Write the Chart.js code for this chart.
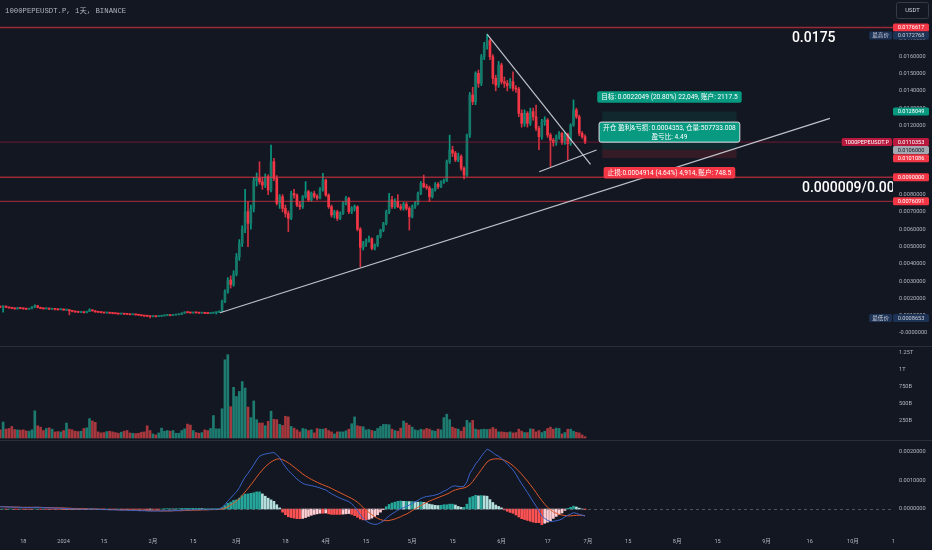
<!DOCTYPE html>
<html><head><meta charset="utf-8">
<script src="https://cdn.jsdelivr.net/npm/chart.js@4.4.1/dist/chart.umd.min.js"></script>
<style>
html,body{margin:0;padding:0;background:#131722;overflow:hidden;}
canvas{display:block;}
</style></head><body>
<canvas id="c" width="932" height="550"></canvas>
<script>
// ---- DATA ----
// day index: 0 = 2024-01-01, first candle 2023-12-10
const firstDay = -22;
const PRICE_UNIT = 0.00001;   // OHLC arrays are in units of 0.00001 USDT
const MACD_UNIT = 0.00001;    // MACD arrays in units of 0.00001
// volume in billions (B)
const opensRaw = [
152,150,155,148,145,143,140,145,142,140,
138,141,150,158,148,142,140,143,138,140,
137,135,138,133,135,128,125,122,120,121,
118,125,133,128,122,120,118,116,118,115,
113,112,110,112,109,108,106,108,105,103,
100,98,97,95,96,95,97,99,102,103,
101,104,106,108,115,120,118,116,118,117,
115,116,114,113,115,118,120,125,180,240,
306,280,340,440,520,600,701,634,720,880,
894,874,855,903,826,990,894,750,788,720,
691,663,807,797,740,730,788,817,769,807,
790,780,830,884,797,730,682,700,663,691,
750,778,701,720,730,600,495,520,537,545,
489,510,560,595,634,701,770,730,760,730,
720,745,720,673,730,750,807,865,846,840,
788,830,860,846,875,880,991,1058,1040,1000,
1020,952,913,1144,1376,1337,1501,1443,1597,1665,
1690,1597,1472,1433,1549,1453,1443,1430,1453,1414,
1410,1270,1212,1270,1212,1280,1250,1183,1135,1221,
1231,1144,1115,1100,1135,1154,1100,1150,1095,1202,
1289,1250,1154,1135];
const highsRaw = [
156,158,157,150,147,145,148,147,144,142,
143,153,163,160,150,144,146,145,142,141,
139,140,140,137,136,130,127,124,123,122,
127,140,135,130,124,122,120,120,119,117,
115,113,114,113,111,109,110,109,107,104,
102,100,98,98,97,99,101,104,105,104,
106,108,110,117,123,122,120,120,119,118,
118,117,115,117,120,122,128,190,250,320,
330,360,460,540,620,830,760,740,900,925,
990,900,920,915,1087,1010,910,800,800,740,
705,820,830,805,760,795,875,825,815,820,
800,840,923,890,805,740,710,710,700,760,
790,785,730,740,735,610,530,545,560,550,
515,565,600,640,710,807,790,775,800,745,
755,755,730,740,760,815,875,913,860,850,
835,870,870,880,890,1000,1144,1080,1050,1040,
1030,960,1150,1390,1420,1510,1520,1610,1680,1728,
1700,1610,1490,1570,1560,1480,1460,1470,1510,1430,
1420,1290,1290,1280,1300,1300,1318,1195,1235,1250,
1240,1155,1125,1145,1165,1160,1160,1155,1210,1347,
1300,1260,1165,1145];
const lowsRaw = [
146,121,146,143,140,137,138,140,137,135,
136,139,147,145,140,137,138,135,136,134,
132,133,130,130,105,122,119,117,118,115,
116,123,126,120,118,116,114,114,113,111,
110,108,109,107,106,104,105,103,101,98,
96,94,86.5,93,92,94,96,98,100,99,
100,103,105,107,113,116,114,115,115,113,
114,112,111,112,114,110,118,123,175,230,
260,270,330,420,500,580,499,600,700,850,
860,830,840,800,815,880,740,720,700,670,
586,655,780,730,715,720,780,760,760,780,
770,775,820,790,720,670,665,650,655,685,
740,690,690,705,590,383,480,500,525,480,
480,500,550,585,625,690,720,720,725,710,
710,710,595,665,720,740,800,840,830,760,
780,820,835,840,865,875,980,1020,990,990,
940,890,905,1130,1320,1320,1420,1430,1580,1640,
1580,1440,1400,1420,1440,1420,1400,1415,1400,1390,
1250,1190,1195,1190,1200,1230,1170,1060,1120,1200,
1130,962,1080,1085,1120,1090,1090,1000,1085,1195,
1240,1140,1125,1095];
const closesRaw = [
150,155,148,145,143,140,145,142,140,138,
141,150,158,148,142,140,143,138,140,137,
135,138,133,135,128,125,122,120,121,118,
125,133,128,122,120,118,116,118,115,113,
112,110,112,109,108,106,108,105,103,100,
98,97,95,96,95,97,99,102,103,101,
104,106,108,115,120,118,116,118,117,115,
116,114,113,115,118,120,125,180,240,306,
280,340,440,520,600,701,634,720,880,894,
874,855,903,826,990,894,750,788,720,691,
663,807,797,740,730,788,817,769,807,790,
780,830,884,797,730,682,700,663,691,750,
778,701,720,730,600,495,520,537,545,489,
510,560,595,634,701,770,730,760,730,720,
745,720,673,730,750,807,865,846,840,788,
830,860,846,875,880,991,1058,1040,1000,1020,
952,913,1144,1376,1337,1501,1443,1597,1665,1690,
1597,1472,1433,1549,1453,1443,1430,1453,1414,1410,
1270,1212,1270,1212,1280,1250,1183,1135,1221,1231,
1144,1115,1100,1135,1154,1100,1150,1095,1202,1289,
1250,1154,1135,1103.53];
const volumesB = [
120,235,130,140,170,125,120,115,120,105,
100,120,400,180,160,110,140,150,130,90,
95,90,110,220,130,120,100,95,100,140,
150,285,250,230,90,75,80,95,100,90,
80,70,85,100,110,75,70,65,70,85,
90,180,110,60,45,75,145,100,110,100,
110,70,70,110,135,205,190,110,80,70,
80,120,110,140,330,135,135,430,1150,1225,
460,745,610,685,830,735,455,300,545,270,
220,220,180,245,395,275,270,200,185,320,
310,170,145,120,90,140,130,110,120,75,
140,130,130,140,110,90,60,90,90,90,
105,130,210,310,180,170,165,120,125,110,
100,140,170,200,200,195,130,110,100,145,
250,220,190,160,120,110,130,120,140,130,
110,100,130,120,300,350,270,160,140,130,
100,160,260,225,260,130,120,125,130,125,
130,155,130,90,90,85,80,90,75,80,
130,100,80,80,135,130,90,110,80,100,
140,160,130,145,140,60,80,130,130,100,
85,75,45,20];
const macdRaw = [
8,8,7,7,7,6,6,6,5,5,
5,5,6,6,5,5,4,4,4,3,
3,3,2,2,1,1,0,0,-1,-1,
-1,0,0,-1,-1,-2,-2,-2,-3,-3,
-3,-3,-4,-4,-4,-5,-5,-5,-6,-6,
-6,-7,-7,-7,-7,-7,-7,-6,-6,-6,
-6,-5,-5,-4,-3,-3,-3,-2,-2,-2,
-2,-2,-2,-2,-1,-1,0,5,15,28,
38,50,60,75,95,112,125,140,155,172,
185,190,193,195,197,198,190,180,162,148,
135,125,115,105,97,90,86,84,82,80,
77,74,70,67,60,53,48,43,38,34,
30,26,18,8,-5,-20,-33,-42,-48,-52,
-54,-53,-48,-42,-33,-24,-17,-11,-4,1,
5,9,14,20,25,30,37,41,44,45,
47,49,52,57,63,67,74,80,81,79,
78,80,95,125,140,158,170,185,198,210,
205,198,190,185,178,168,158,148,137,122,
105,88,73,58,42,26,10,-5,-25,-33,
-40,-44,-43,-41,-39,-35,-28,-22,-18,-13,
-15,-19,-22,-25];
const signalRaw = [
8,8,8,7,7,7,7,6,6,6,
6,6,6,6,6,5,5,5,5,4,
4,4,4,3,3,2,2,1,1,1,
0,0,0,0,-1,-1,-1,-2,-2,-2,
-2,-3,-3,-3,-3,-4,-4,-4,-5,-5,
-5,-5,-6,-6,-6,-6,-7,-7,-7,-7,
-6,-6,-6,-6,-5,-5,-5,-4,-4,-4,
-3,-3,-3,-2,-2,-2,-1,0,3,8,
14,20,28,37,48,60,72,85,98,112,
125,137,148,157,165,171,175,176,173,168,
162,155,147,139,131,123,116,110,104,99,
94,89,85,81,77,72,67,62,57,52,
47,42,37,31,24,15,5,-4,-12,-20,
-27,-33,-37,-40,-41,-40,-38,-35,-31,-27,
-22,-18,-12,-6,0,6,12,18,23,28,
32,36,40,44,48,52,57,63,67,70,
72,74,78,85,96,110,124,138,152,165,
172,175,176,176,174,171,166,160,152,143,
133,122,110,98,85,72,58,43,30,17,
6,-3,-10,-15,-19,-21,-23,-24,-24,-23,
-22,-22,-22,-23];

// time-axis ticks
const tickDays   = [-14, 0, 14, 31, 45, 60, 77, 91, 105, 121, 135, 152, 168, 182, 196, 213, 227, 244, 259, 274, 288];
const tickLabels = ['18','2024','15','2月','15','3月','18','4月','15','5月','15','6月','17','7月','15','8月','15','9月','16','10月','1'];
const priceTicks = [0,0.001,0.002,0.003,0.004,0.005,0.006,0.007,0.008,0.009,0.010,0.011,0.012,0.013,0.014,0.015,0.016,0.017];
const volumeTicks = [250, 500, 750, 1000, 1250];
const volumeTickLabels = ['250B','500B','750B','1T','1.25T'];
const macdTicks = [0, 0.001, 0.002];

// drawings
const hLineValues = [0.0176617, 0.0110353, 0.0090000, 0.0076091];
const trendLines = [
  [54.3, 0.001173, 266, 0.01241],
  [147.06, 0.017266, 182.9, 0.00975],
  [165.1, 0.00932, 185, 0.01058]
];
const posStartDay = 187, posEndDay = 233.6;
const posTarget = 0.0128049, posEntry = 0.0106000, posStop = 0.0101086;
const posTargetText = '目标: 0.0022049 (20.80%) 22,049, 账户: 2117.5';
const posEntryText = ['开仓 盈利&亏损: 0.0004353, 仓量:507733.008', '盈亏比: 4.49'];
const posStopText = '止损:0.0004914 (4.64%) 4,914, 账户: 748.5';
const noteTexts = ['0.0175', '0.000009/0.00'];
const noteDays = [252.8, 256.3];
const notePrices = [0.01705, 0.00838];
const axisMarkValues = [0.0176617, 0.0172768, 0.0128049, 0.0110353, 0.0106000, 0.0101086, 0.0090000, 0.0076091, 0.0008653];
const axisMarkBg = ['#f23645', '#1d3356', '#089981', '#b8193f', '#a5a8b0', '#f23645', '#f23645', '#f23645', '#1d3356'];
const axisMarkFg = ['#ffffff', '#c9ccd4', '#ffffff', '#ffffff', '#131722', '#ffffff', '#ffffff', '#ffffff', '#c9ccd4'];
const axisMarkTags = ['', '最高价', '', '1000PEPEUSDT.P', '', '', '', '', '最低价'];
const titleText = '1000PEPEUSDT.P, 1天, BINANCE';

// ---- BUILD ----
const days = closesRaw.map((_, i) => firstDay + i);
const isUp = i => closesRaw[i] >= opensRaw[i];
const GREEN = '#089981', RED = '#f23645';
const hist = macdRaw.map((m, i) => m - signalRaw[i]);
const histColor = i => {
  const h = hist[i], p = i > 0 ? hist[i - 1] : 0;
  if (h >= 0) return h >= p ? '#26a69a' : '#b2dfdb';
  return h <= p ? '#ff5252' : '#ffcdd2';
};
const AXIS_FONT = 'Roboto, "Noto Sans CJK SC", sans-serif';

const overlay = {
  id: 'overlay',
  beforeDatasetsDraw(chart) {
    const {ctx, scales: {x, yP}} = chart;
    const a = chart.chartArea;
    ctx.save();
    ctx.beginPath(); ctx.rect(a.left, yP.top, a.right - a.left, yP.bottom - yP.top); ctx.clip();
    const x1 = x.getPixelForValue(posStartDay), x2 = x.getPixelForValue(posEndDay);
    const yT = yP.getPixelForValue(posTarget), yE = yP.getPixelForValue(posEntry), yS = yP.getPixelForValue(posStop);
    ctx.fillStyle = 'rgba(8,153,129,0.13)'; ctx.fillRect(x1, yT, x2 - x1, yE - yT);
    ctx.fillStyle = 'rgba(242,54,69,0.15)'; ctx.fillRect(x1, yE, x2 - x1, yS - yE);
    ctx.restore();
  },
  afterDatasetsDraw(chart) {
    const {ctx, scales: {x, yP, yM}} = chart;
    const a = chart.chartArea;
    ctx.save();
    ctx.beginPath(); ctx.rect(a.left, yM.top, a.right - a.left, yM.bottom - yM.top); ctx.clip();
    ctx.strokeStyle = 'rgba(120,123,134,0.6)'; ctx.lineWidth = 1; ctx.setLineDash([3, 3]);
    const z = Math.round(yM.getPixelForValue(0)) + 0.5;
    ctx.beginPath(); ctx.moveTo(a.left, z); ctx.lineTo(a.right, z); ctx.stroke();
    ctx.restore();

    ctx.save();
    ctx.beginPath(); ctx.rect(a.left, yP.top, a.right - a.left, yP.bottom - yP.top); ctx.clip();
    const hColors = ['rgba(242,54,69,0.6)', 'rgba(184,25,63,0.55)', 'rgba(242,54,69,0.6)', 'rgba(242,54,69,0.55)'];
    const hWidths = [1.5, 1, 1.5, 1.2];
    hLineValues.forEach((v, k) => {
      const y = yP.getPixelForValue(v);
      ctx.strokeStyle = hColors[k]; ctx.lineWidth = hWidths[k];
      ctx.beginPath(); ctx.moveTo(a.left, y); ctx.lineTo(a.right, y); ctx.stroke();
    });
    ctx.strokeStyle = 'rgba(209,212,220,0.9)'; ctx.lineWidth = 1.2;
    trendLines.forEach(t => {
      ctx.beginPath();
      ctx.moveTo(x.getPixelForValue(t[0]), yP.getPixelForValue(t[1]));
      ctx.lineTo(x.getPixelForValue(t[2]), yP.getPixelForValue(t[3]));
      ctx.stroke();
    });
    ctx.fillStyle = '#ffffff'; ctx.font = '500 14px Roboto, sans-serif';
    ctx.textAlign = 'left'; ctx.textBaseline = 'middle';
    noteTexts.forEach((t, k) => ctx.fillText(t, x.getPixelForValue(noteDays[k]), yP.getPixelForValue(notePrices[k])));
    const cx = (x.getPixelForValue(posStartDay) + x.getPixelForValue(posEndDay)) / 2;
    const box = (cy, lines, bg, border) => {
      ctx.font = '6.6px ' + AXIS_FONT;
      const w = Math.max(...lines.map(l => ctx.measureText(l).width)) + 8;
      const lh = 8.5, h = lines.length * lh + 3;
      ctx.beginPath(); ctx.roundRect(cx - w / 2, cy - h / 2, w, h, 2);
      ctx.fillStyle = bg; ctx.fill();
      if (border) { ctx.strokeStyle = border; ctx.lineWidth = 1; ctx.stroke(); }
      ctx.fillStyle = '#ffffff'; ctx.textAlign = 'center'; ctx.textBaseline = 'middle';
      lines.forEach((l, k) => ctx.fillText(l, cx, cy - (lines.length - 1) * lh / 2 + k * lh + 0.5));
    };
    box(yP.getPixelForValue(posTarget) - 14.5, [posTargetText], '#089981');
    box(yP.getPixelForValue(posEntry) - 17.5, posEntryText, '#089981', '#e0e3eb');
    box(yP.getPixelForValue(posStop) + 14.5, [posStopText], '#f23645');
    ctx.restore();
  },
  afterDraw(chart) {
    const {ctx, scales: {yP, yV}} = chart;
    const W = chart.width;
    ctx.save();
    ctx.strokeStyle = '#2a2e39'; ctx.lineWidth = 1;
    [yP.bottom, yV.bottom].forEach(y => {
      const yy = Math.round(y) + 0.5;
      ctx.beginPath(); ctx.moveTo(0, yy); ctx.lineTo(W, yy); ctx.stroke();
    });
    const left = yP.left, right = W - 3;
    const order = axisMarkValues.map((v, i) => i).sort((i, j) => yP.getPixelForValue(axisMarkValues[i]) - yP.getPixelForValue(axisMarkValues[j]));
    let prevBottom = -1e9;
    ctx.font = '5.6px ' + AXIS_FONT; ctx.textBaseline = 'middle';
    order.forEach(i => {
      const y = yP.getPixelForValue(axisMarkValues[i]);
      const h = 8;
      const top = Math.max(y - h / 2, prevBottom);
      prevBottom = top + h;
      ctx.fillStyle = axisMarkBg[i];
      ctx.beginPath(); ctx.roundRect(left, top, right - left, h, 1.5); ctx.fill();
      ctx.fillStyle = axisMarkFg[i]; ctx.textAlign = 'center';
      ctx.fillText(axisMarkValues[i].toFixed(7), (left + right) / 2, top + h / 2 + 0.3);
      if (axisMarkTags[i]) {
        const tw = ctx.measureText(axisMarkTags[i]).width + 6;
        ctx.fillStyle = axisMarkBg[i];
        ctx.beginPath(); ctx.roundRect(left - 1 - tw, top, tw, h, 1.5); ctx.fill();
        ctx.fillStyle = axisMarkFg[i];
        ctx.fillText(axisMarkTags[i], left - 1 - tw / 2, top + h / 2 + 0.3);
      }
    });
    ctx.strokeStyle = '#363a45'; ctx.lineWidth = 1;
    ctx.beginPath(); ctx.roundRect(left + 3.5, 2.5, 32, 16, 2); ctx.stroke();
    ctx.fillStyle = '#d1d4dc'; ctx.textAlign = 'center'; ctx.font = '5.8px ' + AXIS_FONT;
    ctx.fillText('USDT', left + 19.5, 10.5);
    ctx.fillStyle = '#b2b5be'; ctx.textAlign = 'left';
    ctx.font = '7.3px "Liberation Mono", "Noto Sans CJK SC", monospace';
    ctx.fillText(titleText, 5, 11);
    ctx.restore();
  }
};

const fixWidth = s => { s.width = 39; s.paddingTop = 0; s.paddingBottom = 0; };
const tickFont = {family: AXIS_FONT, size: 5.6};

new Chart(document.getElementById('c'), {
  type: 'bar',
  data: {
    datasets: [
      {type: 'line', label: 'MACD', yAxisID: 'yM', data: days.map((d, i) => ({x: d, y: macdRaw[i] * MACD_UNIT})),
       borderColor: '#3a63c9', borderWidth: 1, pointRadius: 0, order: 0},
      {type: 'line', label: 'Signal', yAxisID: 'yM', data: days.map((d, i) => ({x: d, y: signalRaw[i] * MACD_UNIT})),
       borderColor: '#e0592a', borderWidth: 1, pointRadius: 0, order: 0},
      {label: 'body', yAxisID: 'yP', grouped: false, barThickness: 2, minBarLength: 1, order: 1,
       data: days.map((d, i) => ({x: d, y: [opensRaw[i] * PRICE_UNIT, closesRaw[i] * PRICE_UNIT]})),
       backgroundColor: c => isUp(c.dataIndex) ? '#167a6b' : RED, borderWidth: 0},
      {label: 'wick', yAxisID: 'yP', grouped: false, barThickness: 1, order: 2,
       data: days.map((d, i) => ({x: d, y: [lowsRaw[i] * PRICE_UNIT, highsRaw[i] * PRICE_UNIT]})),
       backgroundColor: c => isUp(c.dataIndex) ? GREEN : 'rgba(242,54,69,0.85)'},
      {label: 'volume', yAxisID: 'yV', grouped: false, barThickness: 2, order: 3,
       data: days.map((d, i) => ({x: d, y: volumesB[i]})),
       backgroundColor: c => isUp(c.dataIndex) ? '#1e7b70' : '#a7383d'},
      {label: 'hist', yAxisID: 'yM', grouped: false, barThickness: 2, order: 3,
       data: days.map((d, i) => ({x: d, y: hist[i] * MACD_UNIT})),
       backgroundColor: c => histColor(c.dataIndex)}
    ]
  },
  options: {
    responsive: false,
    animation: false,
    layout: {padding: 0},
    plugins: {legend: {display: false}, tooltip: {enabled: false}, title: {display: false}},
    scales: {
      x: {
        type: 'linear', position: 'bottom', min: -22.08, max: 287.9, offset: false,
        grid: {display: false, drawTicks: false, offset: false}, border: {display: false},
        afterBuildTicks: s => { s.ticks = tickDays.map(v => ({value: v})); },
        afterFit: s => { s.height = 25; s.paddingLeft = 0; s.paddingRight = 0; },
        ticks: {autoSkip: false, maxRotation: 0, padding: 13, color: '#b2b5be', font: tickFont,
                callback: (v, i) => tickLabels[i]}
      },
      yP: {
        type: 'linear', position: 'right', stack: 'panes', stackWeight: 346,
        min: -0.000751, max: 0.019249,
        grid: {display: false, drawTicks: false}, border: {display: false},
        afterBuildTicks: s => { s.ticks = priceTicks.map(v => ({value: v})); },
        afterFit: fixWidth,
        ticks: {autoSkip: false, padding: 6, color: '#b2b5be', font: tickFont,
                callback: v => Math.abs(v) < 1e-12 ? '-0.0000000' : v.toFixed(7)}
      },
      yV: {
        type: 'linear', position: 'right', stack: 'panes', stackWeight: 94,
        min: -29.4, max: 1353,
        grid: {display: false, drawTicks: false}, border: {display: false},
        afterBuildTicks: s => { s.ticks = volumeTicks.map(v => ({value: v})); },
        afterFit: fixWidth,
        ticks: {autoSkip: false, padding: 6, color: '#b2b5be', font: tickFont,
                callback: (v, i) => volumeTickLabels[i]}
      },
      yM: {
        type: 'linear', position: 'right', stack: 'panes', stackWeight: 85,
        min: -0.000561, max: 0.002421,
        grid: {display: false, drawTicks: false}, border: {display: false},
        afterBuildTicks: s => { s.ticks = macdTicks.map(v => ({value: v})); },
        afterFit: fixWidth,
        ticks: {autoSkip: false, padding: 6, color: '#b2b5be', font: tickFont,
                callback: v => v.toFixed(7)}
      }
    }
  },
  plugins: [overlay]
});
</script>
</body></html>
